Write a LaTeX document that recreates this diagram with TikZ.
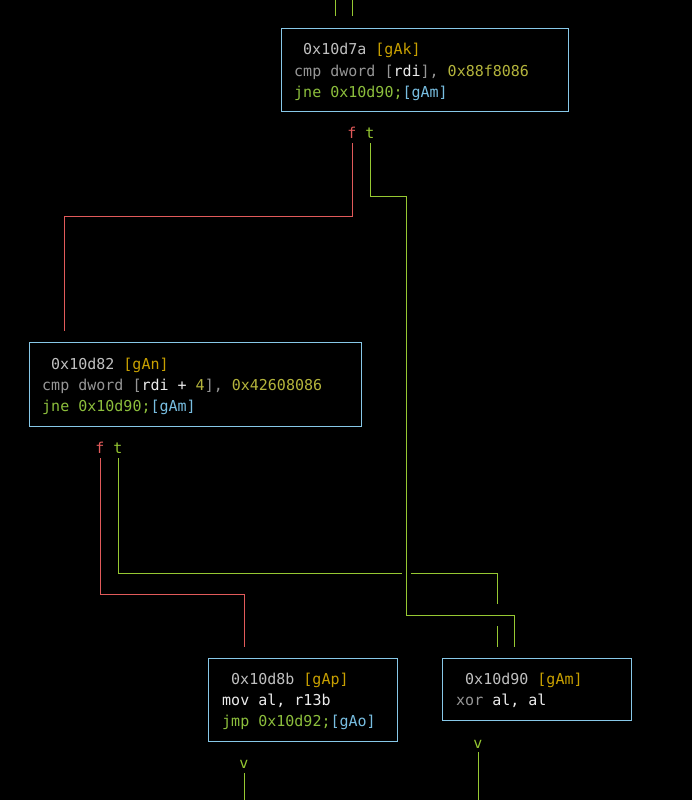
\documentclass[tikz,border=0pt]{standalone}
\usepackage{fontspec}
\setmonofont{DejaVu Sans Mono}
\definecolor{boxc}{RGB}{135,200,232}
\definecolor{addrc}{RGB}{192,192,192}
\definecolor{lblc}{RGB}{200,160,0}
\definecolor{opc}{RGB}{150,150,150}
\definecolor{regc}{RGB}{235,235,235}
\definecolor{numc}{RGB}{180,180,60}
\definecolor{jmpc}{RGB}{140,190,60}
\definecolor{refc}{RGB}{120,190,225}
\definecolor{redl}{RGB}{225,90,90}
\definecolor{grnl}{RGB}{150,200,50}
\begin{document}
\begin{tikzpicture}[x=1pt,y=-1pt,
  blk/.style={draw=boxc,line width=1pt,fill=black,anchor=north west,inner sep=0pt},
  txt/.style={anchor=base west,inner sep=0pt,font=\ttfamily\fontsize{15}{18}\selectfont},
  lbl/.style={anchor=base,inner sep=0pt,font=\ttfamily\fontsize{15}{18}\selectfont},
  fedge/.style={draw=redl,line width=1pt},
  tedge/.style={draw=grnl,line width=1pt}]
\fill[black] (0,0) rectangle (692,800);
\useasboundingbox (0,0) rectangle (692,800);

% boxes
\node[blk,minimum width=287pt,minimum height=83pt] (b1) at (281,28) {};
\node[blk,minimum width=332pt,minimum height=84pt] (b2) at (29,342) {};
\node[blk,minimum width=189pt,minimum height=83pt] (b3) at (208,658) {};
\node[blk,minimum width=189pt,minimum height=62pt] (b4) at (442,658) {};

% box 1 text
\node[txt] (b1a) at (303,55) {\color{addrc}0x10d7a \color{lblc}[gAk]};
\node[txt] (b1b) at (294,76) {\color{opc}cmp dword [\color{regc}rdi\color{opc}], \color{numc}0x88f8086};
\node[txt] (b1c) at (294,97) {\color{jmpc}jne 0x10d90;\color{refc}[gAm]};

% box 2 text
\node[txt] (b2a) at (51,369) {\color{addrc}0x10d82 \color{lblc}[gAn]};
\node[txt] (b2b) at (42,390) {\color{opc}cmp dword [\color{regc}rdi + \color{numc}4\color{opc}], \color{numc}0x42608086};
\node[txt] (b2c) at (42,411) {\color{jmpc}jne 0x10d90;\color{refc}[gAm]};

% box 3 text
\node[txt] (b3a) at (231,684) {\color{addrc}0x10d8b \color{lblc}[gAp]};
\node[txt] (b3b) at (222,705) {\color{regc}mov al, r13b};
\node[txt] (b3c) at (222,726) {\color{jmpc}jmp 0x10d92;\color{refc}[gAo]};

% box 4 text
\node[txt] (b4a) at (465,684) {\color{addrc}0x10d90 \color{lblc}[gAm]};
\node[txt] (b4b) at (456,705) {\color{opc}xor \color{regc}al, al};

% edge labels
\node[lbl,text=redl] (f1) at (352,138) {f};
\node[lbl,text=grnl] (t1) at (370,138) {t};
\node[lbl,text=redl] (f2) at (100,453) {f};
\node[lbl,text=grnl] (t2) at (118,453) {t};
\node[lbl,text=grnl] (v3) at (244,768) {v};
\node[lbl,text=grnl] (v4) at (478,748) {v};

% coordinates
\coordinate (inA0) at (335,0);  \coordinate (inA1) at (335,16);
\coordinate (inB0) at (352,0);  \coordinate (inB1) at (352,16);

\coordinate (f1s) at (352,143); \coordinate (f1a) at (352,216);
\coordinate (f1b) at (64,216);  \coordinate (f1e) at (64,331);

\coordinate (t1s) at (370,143); \coordinate (t1a) at (370,196);
\coordinate (t1b) at (406,196); \coordinate (t1c) at (406,615);
\coordinate (t1d) at (514,615); \coordinate (t1e) at (514,647);

\coordinate (f2s) at (100,458); \coordinate (f2a) at (100,594);
\coordinate (f2b) at (244,594); \coordinate (f2e) at (244,647);

\coordinate (t2s) at (118,458); \coordinate (t2a) at (118,573);
\coordinate (t2g1) at (402,573); \coordinate (t2g2) at (411,573);
\coordinate (t2b) at (497,573); \coordinate (t2g3) at (497,604);
\coordinate (t2g4) at (497,626); \coordinate (t2e) at (497,647);

\coordinate (o3s) at (244,773); \coordinate (o3e) at (244,800);
\coordinate (o4s) at (478,752); \coordinate (o4e) at (478,800);

% connectors
\draw[tedge] (inA0) -- (inA1);
\draw[tedge] (inB0) -- (inB1);
\draw[fedge] (f1s) -- (f1a) -- (f1b) -- (f1e);
\draw[tedge] (t1s) -- (t1a) -- (t1b) -- (t1c) -- (t1d) -- (t1e);
\draw[fedge] (f2s) -- (f2a) -- (f2b) -- (f2e);
\draw[tedge] (t2s) -- (t2a) -- (t2g1);
\draw[tedge] (t2g2) -- (t2b) -- (t2g3);
\draw[tedge] (t2g4) -- (t2e);
\draw[tedge] (o3s) -- (o3e);
\draw[tedge] (o4s) -- (o4e);
\end{tikzpicture}
\end{document}
